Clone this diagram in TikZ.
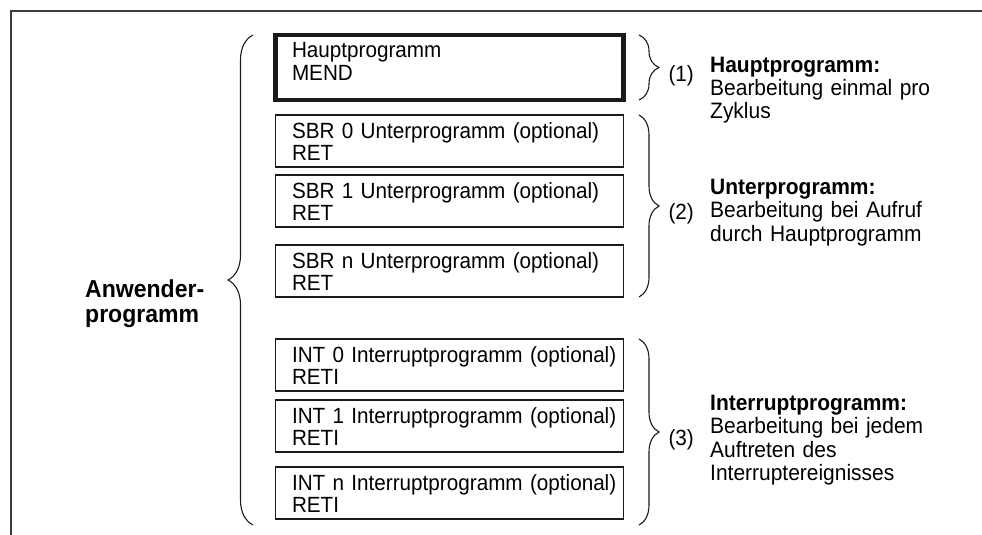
\documentclass[tikz,border=0pt]{standalone}
\usepackage{fontspec}
\setmainfont[FakeStretch=0.94]{Liberation Sans}
\usepackage{tikz}
\usetikzlibrary{positioning,decorations.pathreplacing}
\definecolor{prgLine}{HTML}{1A1A1A}
\newcommand{\progtext}[2]{\mbox{#1}\\#2}
\newcommand{\progfont}{\fontsize{22}{22.5}\selectfont}
\newcommand{\descfont}{\fontsize{22.3}{23.5}\selectfont}
\tikzset{
  progbox/.style={rectangle,draw=prgLine,line width=1.1pt,outer sep=0pt,
    inner xsep=16.5pt,inner ysep=0pt,text width=315pt,align=left,
    text height=23pt,text depth=29pt,font=\progfont},
  mainbox/.style={progbox,line width=4.5pt,text height=23pt,text depth=42pt},
  progbrace/.style={decorate,decoration={brace,amplitude=20pt},draw=prgLine,line width=1.1pt},
  bracelabel/.style={midway,anchor=west,inner sep=0pt,xshift=29pt,yshift=-8pt,font=\progfont},
  desctext/.style={anchor=base west,inner sep=0pt,text width=260pt,align=left,font=\descfont},
  frameline/.style={draw=prgLine!85,line width=2pt}
}
\begin{document}
\begin{tikzpicture}[x=1pt,y=-1pt]
  \useasboundingbox (0,0) rectangle (982,535);
  \draw[frameline] (11,535) -- (11,11.5) -- (982,11.5);
  % program blocks
  \node[mainbox,anchor=north west] (hp) at (275.5,35) {\progtext{Hauptprogramm}{MEND}};
  \node[progbox,below=15pt of hp] (sbr0) {\progtext{SBR 0 Unterprogramm (optional)}{RET}};
  \node[progbox,below=8pt of sbr0] (sbr1) {\progtext{SBR 1 Unterprogramm (optional)}{RET}};
  \node[progbox,below=18pt of sbr1] (sbrn) {\progtext{SBR n Unterprogramm (optional)}{RET}};
  \node[progbox,below=42pt of sbrn] (int0) {\progtext{INT 0 Interruptprogramm (optional)}{RETI}};
  \node[progbox,below=9pt of int0] (int1) {\progtext{INT 1 Interruptprogramm (optional)}{RETI}};
  \node[progbox,below=15pt of int1] (intn) {\progtext{INT n Interruptprogramm (optional)}{RETI}};
  % braces
  \draw[progbrace,decoration={amplitude=25pt}] ([xshift=-22.5pt,yshift=-6pt]intn.south west) -- ([xshift=-22.5pt]hp.north west);
  \draw[progbrace] ([xshift=15.5pt]hp.north east) -- ([xshift=15.5pt]hp.south east) node[bracelabel] (l1) {(1)};
  \draw[progbrace] ([xshift=15.5pt]sbr0.north east) -- ([xshift=15.5pt]sbrn.south east) node[bracelabel] (l2) {(2)};
  \draw[progbrace] ([xshift=15.5pt]int0.north east) -- ([xshift=15.5pt,yshift=-6pt]intn.south east) node[bracelabel] (l3) {(3)};
  % texts
  \node[desctext,text width=150pt,font=\fontsize{24.5}{25}\selectfont\bfseries] (user) at (85,297) {Anwender-\\programm};
  \node[desctext] (d1) at (710,72) {\textbf{Hauptprogramm:}\\Bearbeitung einmal pro\\Zyklus};
  \node[desctext] (d2) at (710,194) {\textbf{Unterprogramm:}\\Bearbeitung bei Aufruf\\durch Hauptprogramm};
  \node[desctext] (d3) at (710,410) {\textbf{Interruptprogramm:}\\Bearbeitung bei jedem\\Auftreten des\\Interruptereignisses};
\end{tikzpicture}
\end{document}
